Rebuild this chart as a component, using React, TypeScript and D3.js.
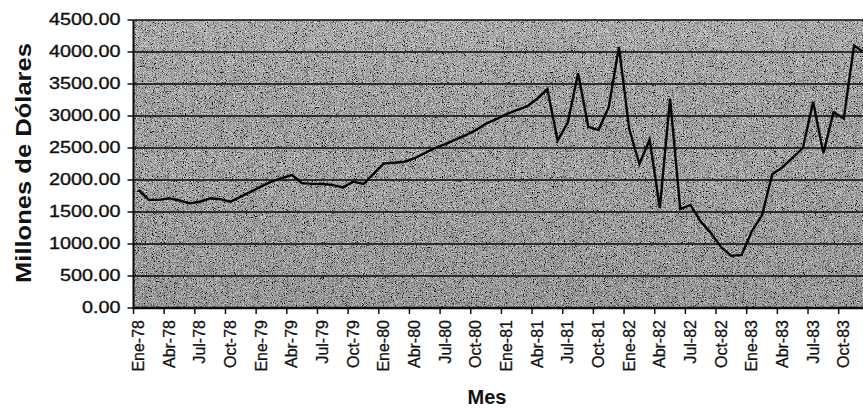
import React from "react";
import * as d3 from "d3";

const years = ["78", "79", "80", "81", "82", "83"];
const monthNames = ["Ene", "Feb", "Mar", "Abr", "May", "Jun", "Jul", "Ago", "Sep", "Oct", "Nov", "Dic"];
const categories: string[] = years.flatMap((y) => monthNames.map((m) => `${m}-${y}`));

const values: number[] = [
  1844, 1690, 1690, 1714, 1680, 1635, 1660, 1714, 1700, 1661, 1740, 1818,
  1900, 1974, 2030, 2078, 1950, 1940, 1937, 1920, 1885, 1974, 1937, 2100,
  2260, 2270, 2286, 2340, 2420, 2500, 2560, 2630, 2700, 2780, 2880, 2950,
  3030, 3090, 3150, 3270, 3420, 2615, 2900, 3667, 2830, 2780, 3140, 4080,
  2800, 2250, 2630, 1560, 3270, 1545, 1610, 1350, 1170, 950, 815, 830,
  1200, 1450, 2090, 2200, 2350, 2500, 3220, 2420, 3060, 2960, 4100, 3990,
];

const tickLabels: string[] = [
  "Ene-78", "Abr-78", "Jul-78", "Oct-78", "Ene-79", "Abr-79", "Jul-79", "Oct-79",
  "Ene-80", "Abr-80", "Jul-80", "Oct-80", "Ene-81", "Abr-81", "Jul-81", "Oct-81",
  "Ene-82", "Abr-82", "Jul-82", "Oct-82", "Ene-83", "Abr-83", "Jul-83", "Oct-83",
];

const yTicks: number[] = [0, 500, 1000, 1500, 2000, 2500, 3000, 3500, 4000, 4500];

const W = 863;
const H = 408;
const left = 133.5;
const top = 20;
const bottom = 308;
const monthW = 10.22;
const right = left + monthW * categories.length;

export default function App() {
  const x = d3.scaleBand<string>().domain(categories).range([left, right]).padding(0);
  const y = d3.scaleLinear().domain([0, 4500]).range([bottom, top]);
  const bw = x.bandwidth();
  const line = d3
    .line<number>()
    .x((_, i) => (x(categories[i]) as number) + bw / 2)
    .y((d) => y(d));
  const font = "'Liberation Sans', Arial, Helvetica, sans-serif";

  return (
    <div style={{ position: "fixed", left: 0, top: 0, width: W, height: H, background: "#fff" }}>
      <svg width={W} height={H} style={{ display: "block" }}>
        <defs>
          <filter id="grain" x="0" y="0" width="100%" height="100%">
            <feTurbulence type="fractalNoise" baseFrequency="0.9 1.2" numOctaves="2" seed="7" result="n" />
            <feColorMatrix
              in="n"
              type="matrix"
              values="0.9 0.9 0.9 0 -0.98  0.9 0.9 0.9 0 -0.98  0.9 0.9 0.9 0 -0.98  0 0 0 0 1"
            />
          </filter>
          <linearGradient id="shade" x1="0" y1="0" x2="0" y2="1">
            <stop offset="0" stopColor="#fff" stopOpacity="0.10" />
            <stop offset="0.15" stopColor="#fff" stopOpacity="0.04" />
            <stop offset="0.5" stopColor="#000" stopOpacity="0.0" />
            <stop offset="1" stopColor="#000" stopOpacity="0.06" />
          </linearGradient>
          <clipPath id="plotClip">
            <rect x={left} y={top - 2} width={right - left} height={bottom - top + 4} />
          </clipPath>
        </defs>

        {/* plot background */}
        <rect x={left} y={top} width={W - left} height={bottom - top} fill="#5f5f5f" />
        <rect x={left} y={top} width={W - left} height={bottom - top} filter="url(#grain)" opacity={0.95} />
        <rect x={left} y={top} width={W - left} height={bottom - top} fill="url(#shade)" />

        {/* gridlines */}
        {yTicks.map((t) => (
          <line key={"g" + t} x1={left} x2={W} y1={y(t)} y2={y(t)} stroke="#0a0a0a" strokeWidth={t === 0 ? 2.4 : 1.7} />
        ))}
        {/* left axis */}
        <line x1={left} x2={left} y1={top} y2={bottom + 1} stroke="#0a0a0a" strokeWidth={2} />
        {yTicks.map((t) => (
          <line key={"yt" + t} x1={left - 6} x2={left} y1={y(t)} y2={y(t)} stroke="#111" strokeWidth={1.5} />
        ))}
        {yTicks.map((t) => (
          <text
            key={"yl" + t}
            transform={`translate(${left - 13},${y(t)}) scale(1.2,1)`}
            textAnchor="end"
            dominantBaseline="central"
            fontFamily={font}
            fontSize={16.5}
            fill="#111"
            stroke="#111"
            strokeWidth={0.35}
          >
            {d3.format(".2f")(t)}
          </text>
        ))}

        {/* x ticks */}
        {categories.map((c, i) =>
          i % 3 === 0 ? (
            <line key={"xt" + c} x1={x(c)} x2={x(c)} y1={bottom} y2={bottom + 6} stroke="#111" strokeWidth={1.5} />
          ) : null
        )}
        {tickLabels.map((c) => (
          <text
            key={"xl" + c}
            transform={`translate(${(x(c) as number) + bw / 2},${bottom + 12}) rotate(-90)`}
            textAnchor="end"
            dominantBaseline="central"
            fontFamily={font}
            fontSize={16}
            fill="#111"
            stroke="#111"
            strokeWidth={0.3}
          >
            {c}
          </text>
        ))}

        {/* data line */}
        <g clipPath="url(#plotClip)">
          <path d={line(values) ?? ""} fill="none" stroke="#050505" strokeWidth={2.4} strokeLinejoin="miter" />
        </g>

        {/* axis titles */}
        <text
          transform={`translate(31,163) rotate(-90)`}
          textAnchor="middle"
          fontFamily={font}
          fontWeight="bold"
          fontSize={22}
          textLength={240}
          lengthAdjust="spacingAndGlyphs"
          fill="#111"
        >
          Millones de Dólares
        </text>
        <text x={487} y={404} textAnchor="middle" fontFamily={font} fontWeight="bold" fontSize={20} fill="#111">
          Mes
        </text>
      </svg>
    </div>
  );
}
